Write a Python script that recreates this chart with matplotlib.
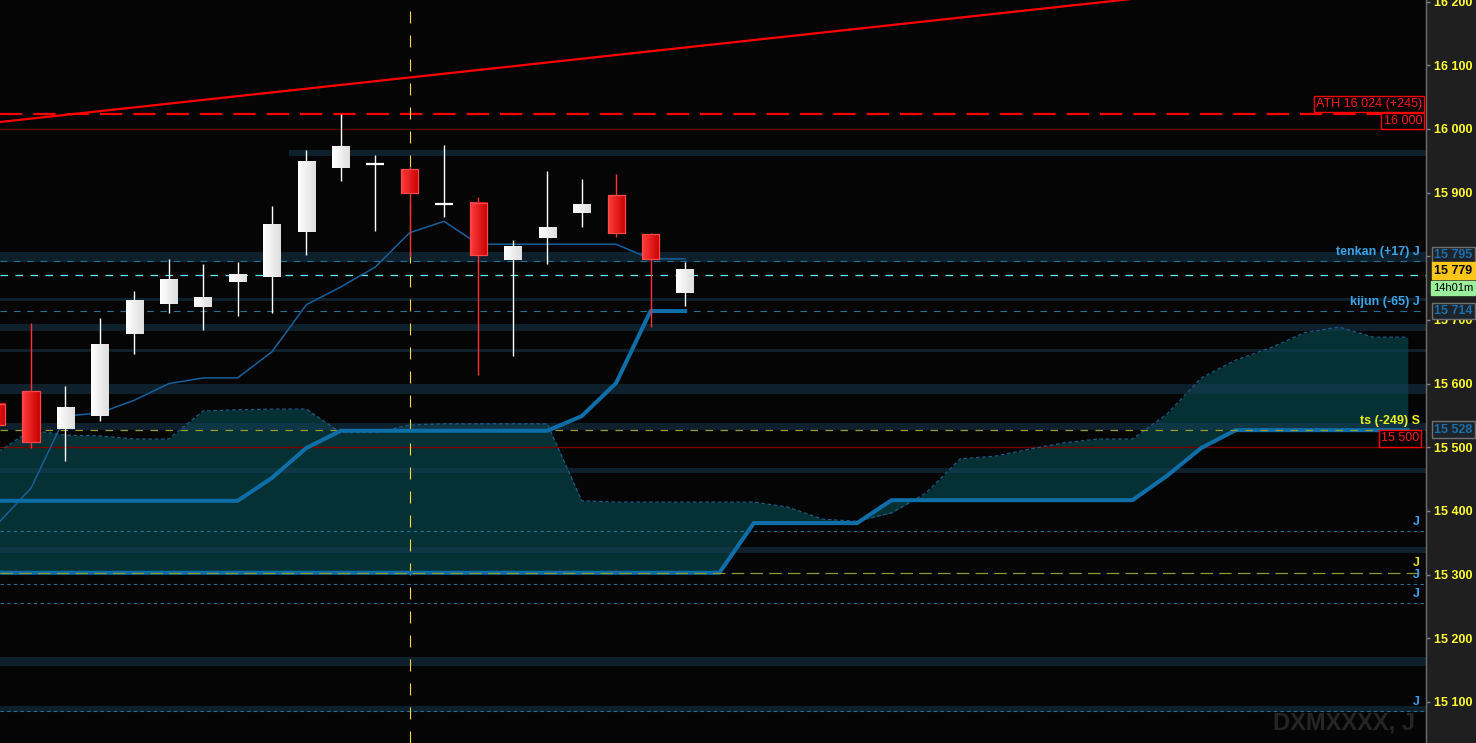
import numpy as np
import matplotlib
matplotlib.use("Agg")
import matplotlib.pyplot as plt
from matplotlib.colors import LinearSegmentedColormap
from matplotlib.patches import Rectangle
from matplotlib.transforms import blended_transform_factory

plt.rcParams['font.family'] = ['Liberation Sans', 'DejaVu Sans']

# ---------------- data ----------------
opens  = [15568, 15588, 15529, 15549, 15678, 15725, 15720, 15760, 15768, 15838, 15939,
          15945, 15937, 15882, 15884, 15794, 15829, 15868, 15896, 15835, 15742]
highs  = [15585, 15695, 15596, 15703, 15746, 15796, 15788, 15791, 15879, 15967, 16024,
          15959, 15940, 15975, 15893, 15826, 15934, 15921, 15929, 15836, 15791]
lows   = [15520, 15499, 15479, 15541, 15647, 15711, 15684, 15706, 15711, 15802, 15918,
          15840, 15799, 15862, 15614, 15643, 15788, 15846, 15830, 15689, 15722]
closes = [15535, 15508, 15562, 15662, 15731, 15764, 15735, 15771, 15851, 15948, 15972,
          15946, 15900, 15883, 15802, 15815, 15845, 15881, 15837, 15796, 15779]

tenkan = [15378, 15436, 15549, 15554, 15574, 15600, 15609, 15609, 15650, 15724, 15752,
          15783, 15837, 15855, 15819, 15819, 15819, 15819, 15819, 15796, 15796]
kijun  = [15416, 15416, 15416, 15416, 15416, 15416, 15416, 15416, 15452, 15499, 15526,
          15526, 15526, 15526, 15526, 15526, 15526, 15549, 15601, 15714, 15714]

ssa = [15491, 15527, 15519, 15518, 15513, 15513, 15557, 15559, 15560, 15560, 15523,
       15523, 15535, 15537, 15537, 15537, 15537, 15416, 15414, 15414, 15414, 15414,
       15414, 15406, 15387, 15384, 15397, 15428, 15482, 15486, 15497, 15507, 15513,
       15513, 15552, 15609, 15637, 15656, 15680, 15689, 15673, 15673]
ssb = [15303] * 22 + [15381] * 4 + [15417] * 8 + [15455, 15499] + [15527] * 6

# horizontal zones (low, high, first bar index)
zone_lo = [15958, 15791, 15730, 15683, 15650, 15584, 15527, 15460, 15334, 15157, 15084]
zone_hi = [15967, 15807, 15735, 15694, 15655, 15600, 15538, 15468, 15343, 15171, 15093]
zone_start = [9, 0, 0, 0, 0, 0, 0, 0, 0, 0, 0]

# trend line anchors
trend_i = [0, 40]
trend_p = [16010.4, 16245.5]

ath = 16024
last_price = 15779
tenkan_lvl = 15795
kijun_lvl = 15714
ts_lvl = 15528
j_levels = [15368, 15304, 15285, 15256, 15086]
j_colors = ['#3aa0f0', '#e8e020', '#3aa0f0', '#3aa0f0', '#3aa0f0']
marker_bar = 12

yticks = list(range(15100, 16201, 100))

# ---------------- figure ----------------
W, H = 1476, 743
fig = plt.figure(figsize=(W / 100, H / 100), dpi=100, facecolor='#1f1f1f')
ax = fig.add_axes([0, 0, 1426 / W, 1])
ax.set_facecolor('#050505')

PX = 1.5706  # price per pixel
xmin, xmax = 0.099, 41.53
ymin, ymax = 15035.6, 16202.6
n = len(opens)
x = np.arange(n)
xc = np.arange(len(ssa))

# cloud
ax.fill_between(xc, ssa, ssb, color='#053034', lw=0, zorder=1)
ax.plot(xc, ssa, color='#1a5a88', lw=0.9, ls=(0, (3, 2)), zorder=4)
ax.plot(xc, ssb, color='#0e6ea8', lw=2.9, zorder=4, solid_joinstyle='round')

# zones
for lo, hi, s in zip(zone_lo, zone_hi, zone_start):
    ax.fill_between([s - 0.5 if s > 0 else xmin - 1, xmax + 1], lo, hi,
                    color='#1a3c55', alpha=0.5, lw=0, zorder=2)

# level lines
ax.axhline(ath, color='#ff0000', lw=1.6, ls=(0, (10, 5)), zorder=3)
ax.axhline(16000, color='#5a0000', lw=1.0, zorder=3)
ax.axhline(15500, color='#7a0000', lw=1.0, zorder=3)
ax.axhline(tenkan_lvl - 3, color='#2a6f96', lw=0.8, ls=(0, (6, 6)), zorder=3)
ax.axhline(last_price - 9, color='#5ff0ff', lw=0.9, ls=(0, (6, 6)), zorder=3)
ax.axhline(kijun_lvl, color='#2a6f96', lw=0.8, ls=(0, (6, 6)), zorder=3)
ax.axhline(ts_lvl, color='#9a9a30', lw=0.9, ls=(0, (6, 6)), zorder=4.5)
for lv, c in zip(j_levels, j_colors):
    if c == '#e8e020':
        ax.axhline(lv - 1.5, color='#8a9a30', lw=0.9, ls=(0, (10, 5)), zorder=4.5)
    else:
        ax.axhline(lv, color='#2a6f96', lw=0.8, ls=(0, (3, 3)), zorder=3)

# trend line
ax.plot(trend_i, trend_p, color='#ff0000', lw=1.6, zorder=3)

# vertical marker
ax.axvline(marker_bar, color='#ffd83a', lw=0.8, ls=(0, (10.8, 10.8)), zorder=3.5)

# ichimoku lines
ax.plot(x, tenkan, color='#15609a', lw=1.1, zorder=5)
ax.plot(x, kijun, color='#0e6ea8', lw=2.9, zorder=5, solid_joinstyle='round')

# candles
cm_up = LinearSegmentedColormap.from_list('up', ['#ffffff', '#dedede'])
cm_dn = LinearSegmentedColormap.from_list('dn', ['#ff3c3c', '#c80000'])
grad = np.linspace(0, 1, 32).reshape(1, -1)
bw = 0.25
for i in range(n):
    o, h, l, c = opens[i], highs[i], lows[i], closes[i]
    up = c >= o
    wc = '#ffffff' if up else '#ff3030'
    ax.vlines(i, l, h, color=wc, lw=1.0, zorder=6)
    lo, hi = min(o, c), max(o, c)
    if hi - lo < 3:
        ax.hlines((o + c) / 2, i - bw - 0.02, i + bw + 0.02, color='#ffffff', lw=1.6, zorder=7)
        continue
    ax.imshow(grad, extent=[i - bw, i + bw, lo, hi], aspect='auto',
              cmap=cm_up if up else cm_dn, interpolation='bilinear', zorder=7)
    if not up:
        ax.add_patch(Rectangle((i - bw, lo), 2 * bw, hi - lo, fill=False,
                               ec='#ff4a4a', lw=0.9, zorder=7.5))

ax.set_xlim(xmin, xmax)
ax.set_ylim(ymin, ymax)

# axis styling
for s in ['top', 'left', 'bottom']:
    ax.spines[s].set_visible(False)
ax.spines['right'].set_color('#6e6e6e')
ax.spines['right'].set_linewidth(1.0)
ax.set_xticks([])
ax.yaxis.tick_right()
ax.set_yticks(yticks)
ax.set_yticklabels([f"{v:,}".replace(',', ' ') for v in yticks])
ax.tick_params(axis='y', direction='out', length=3, width=1, color='#808080',
               pad=3, labelcolor='#ffff30', labelsize=9)
for t in ax.get_yticklabels():
    t.set_fontweight('bold')

tr = blended_transform_factory(ax.transAxes, ax.transData)
xr = 1420 / 1426

# labels in chart
ax.text(1422 / 1426, 16039, "ATH 16 024 (+245)", transform=tr, ha='right', va='center',
        color='#ff1a1a', fontsize=9, zorder=10,
        bbox=dict(boxstyle='square,pad=0.18', fc='#000000', ec='#ff0000', lw=1))
ax.text(1422 / 1426, 16012.5, "16 000", transform=tr, ha='right', va='center',
        color='#ff1a1a', fontsize=9, zorder=10,
        bbox=dict(boxstyle='square,pad=0.18', fc='#000000', ec='#ff0000', lw=1))
ax.text(1419 / 1426, 15514, "15 500", transform=tr, ha='right', va='center',
        color='#ff1a1a', fontsize=9, zorder=10,
        bbox=dict(boxstyle='square,pad=0.18', fc='#000000', ec='#ff0000', lw=1))

ax.text(xr, tenkan_lvl + 8 * PX, "tenkan (+17) J", transform=tr, ha='right', va='center',
        color='#3aa4e8', fontsize=9, fontweight='bold', zorder=10)
ax.text(xr, kijun_lvl + 9 * PX, "kijun (-65) J", transform=tr, ha='right', va='center',
        color='#3aa4e8', fontsize=9, fontweight='bold', zorder=10)
ax.text(xr, ts_lvl + 9 * PX, "ts (-249) S", transform=tr, ha='right', va='center',
        color='#f0f020', fontsize=9, fontweight='bold', zorder=10)
for lv, c in zip(j_levels, j_colors):
    ax.text(xr, lv + 9 * PX, "J", transform=tr, ha='right', va='center',
            color=c, fontsize=9, fontweight='bold', zorder=10)

# watermark
ax.text(1415 / 1426, 0.027, "DXMXXXX, J", transform=ax.transAxes, ha='right', va='center',
        color='#252525', fontsize=17, fontweight='bold', zorder=0.5)

# boxes on the price scale
xb = 1434 / 1426
box_grey = dict(boxstyle='square,pad=0.18', fc='#1c232a', ec='#707070', lw=1)
ax.text(xb, 15802, "15 795", transform=tr, ha='left', va='center', color='#1c6ea8',
        fontsize=9, fontweight='bold', bbox=box_grey, clip_on=False, zorder=10)
ax.text(xb, 15777, "15 779", transform=tr, ha='left', va='center', color='#000000',
        fontsize=9, fontweight='bold', clip_on=False, zorder=11,
        bbox=dict(boxstyle='square,pad=0.2', fc='#ffc61a', ec='#ffc61a', lw=1))
ax.text(1433 / 1426, 15750, "14h01m", transform=tr, ha='left', va='center', color='#000000',
        fontsize=8, clip_on=False, zorder=11,
        bbox=dict(boxstyle='square,pad=0.15', fc='#9af09a', ec='#9af09a', lw=1))
ax.text(xb, 15714, "15 714", transform=tr, ha='left', va='center', color='#1c6ea8',
        fontsize=9, fontweight='bold', bbox=box_grey, clip_on=False, zorder=10)
ax.text(xb, 15528, "15 528", transform=tr, ha='left', va='center', color='#1c6ea8',
        fontsize=9, fontweight='bold', bbox=box_grey, clip_on=False, zorder=10)

fig.savefig("out.png", dpi=100, facecolor=fig.get_facecolor())
